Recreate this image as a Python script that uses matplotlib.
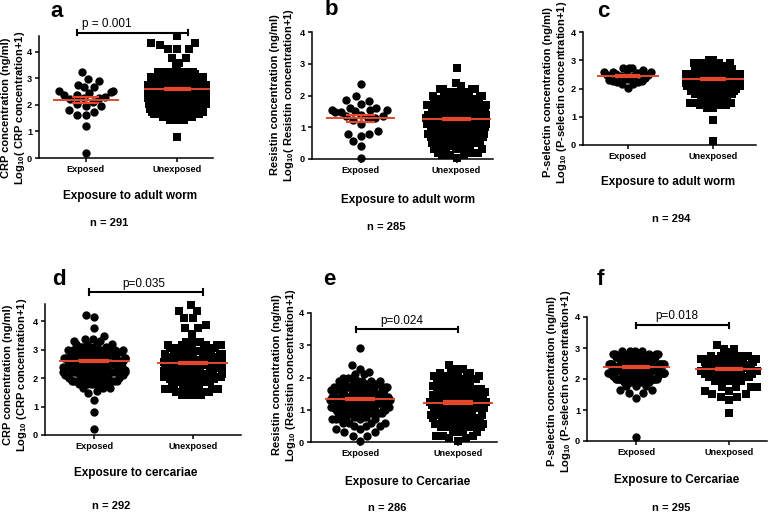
import numpy as np
import matplotlib
matplotlib.use('Agg')
import matplotlib.pyplot as plt

plt.rcParams['font.family'] = ['Liberation Sans', 'DejaVu Sans']
plt.rcParams['mathtext.fontset'] = 'custom'
plt.rcParams['mathtext.rm'] = 'Liberation Sans:bold'
plt.rcParams['mathtext.default'] = 'rm'

groups = ['Exposed', 'Unexposed']

# sparse groups: one value per point
a_exp = [0.19, 1.2, 1.62, 1.62, 1.75, 1.81, 1.96, 1.96, 2.05, 2.13, 2.22, 2.28, 2.28, 2.3,
         2.39, 2.39, 2.44, 2.47, 2.54, 2.54, 2.67, 2.67, 2.75, 2.9, 2.97, 3.23]
b_exp = [0.02, 0.42, 0.57, 0.72, 0.8, 0.8, 0.88, 1.09, 1.22, 1.28, 1.3, 1.35, 1.35, 1.4,
         1.47, 1.47, 1.51, 1.54, 1.54, 1.54, 1.62, 1.62, 1.74, 1.83, 1.86, 1.97, 2.36]
c_exp = [2.03, 2.15, 2.15, 2.22, 2.22, 2.27, 2.27, 2.3, 2.35, 2.38, 2.4, 2.42, 2.45, 2.45,
         2.48, 2.48, 2.5, 2.55, 2.55, 2.59, 2.59, 2.59, 2.65, 2.65, 2.71, 2.71, 2.71]

# dense groups: row value and number of points near that value
a_une_y = [0.8, 1.45, 1.55, 1.65, 1.75, 1.85, 1.95, 2.05, 2.15, 2.25, 2.35, 2.45, 2.55,
           2.65, 2.75, 2.85, 2.95, 3.05, 3.15, 3.25, 3.45, 3.58, 3.77, 4.1, 4.25, 4.33, 4.6]
a_une_n = [1, 7, 8, 9, 10, 12, 14, 15, 16, 16, 17, 17, 17, 17, 16, 14, 13, 12, 10, 9,
           2, 1, 2, 3, 1, 2, 1]
b_une_y = [0.02, 0.12, 0.2, 0.3, 0.42, 0.5, 0.6, 0.7, 0.8, 0.9, 1.0, 1.1, 1.2, 1.3, 1.4, 1.5,
           1.6, 1.7, 1.8, 1.9, 2.0, 2.1, 2.2, 2.3, 2.38, 2.88]
b_une_n = [1, 3, 4, 5, 6, 8, 10, 12, 14, 15, 16, 17, 18, 18, 17, 16, 15, 14, 12, 10, 8, 6,
           4, 1, 1, 1]
c_une_y = [0.13, 0.87, 1.32, 1.4, 1.5, 1.6, 1.7, 1.8, 1.9, 2.0, 2.1, 2.2, 2.3, 2.4, 2.5,
           2.6, 2.7, 2.8, 2.9, 3.0]
c_une_n = [1, 1, 2, 3, 3, 4, 8, 14, 20, 24, 26, 27, 27, 26, 24, 20, 14, 10, 7, 2]
d_exp_y = [0.21, 0.82, 1.23, 1.46, 1.55, 1.65, 1.78, 1.9, 2.0, 2.1, 2.2, 2.3, 2.4, 2.5, 2.6,
           2.7, 2.8, 2.9, 3.0, 3.1, 3.2, 3.3, 3.37, 3.49, 3.74, 4.13, 4.23]
d_exp_n = [1, 1, 1, 1, 1, 3, 6, 8, 8, 9, 9, 9, 9, 9, 9, 9, 9, 8, 7, 6, 4, 2, 2, 1, 1, 1, 1]
d_une_y = [1.42, 1.5, 1.6, 1.7, 1.85, 1.95, 2.05, 2.15, 2.25, 2.35, 2.45, 2.55, 2.65, 2.75,
           2.85, 2.95, 3.05, 3.15, 3.25, 3.53, 3.75, 3.88, 4.1, 4.37, 4.58]
d_une_n = [8, 5, 7, 7, 9, 10, 10, 10, 10, 10, 10, 10, 10, 9, 9, 8, 7, 6, 4, 1, 2, 1, 2, 2, 1]
e_exp_y = [0.03, 0.2, 0.3, 0.4, 0.5, 0.6, 0.7, 0.78, 0.9, 1.0, 1.1, 1.2, 1.3, 1.4, 1.5, 1.6,
           1.7, 1.8, 1.9, 2.0, 2.1, 2.18, 2.25, 2.38, 2.9]
e_exp_n = [1, 2, 2, 2, 3, 4, 5, 5, 9, 10, 11, 11, 11, 11, 11, 10, 9, 8, 5, 3, 2, 1, 1, 1, 1]
e_une_y = [0.02, 0.12, 0.2, 0.3, 0.45, 0.55, 0.65, 0.75, 0.85, 0.95, 1.05, 1.15, 1.25, 1.35,
           1.45, 1.55, 1.65, 1.75, 1.85, 1.95, 2.05, 2.15, 2.25, 2.38]
e_une_n = [1, 2, 3, 4, 6, 6, 6, 7, 8, 8, 9, 9, 9, 9, 9, 9, 9, 8, 7, 6, 5, 3, 2, 1]
f_exp_y = [0.14, 1.38, 1.55, 1.65, 1.78, 1.9, 2.0, 2.1, 2.2, 2.3, 2.4, 2.5, 2.6, 2.7, 2.8, 2.9]
f_exp_n = [1, 1, 2, 2, 3, 8, 12, 14, 16, 16, 16, 15, 14, 12, 8, 4]
f_une_y = [0.89, 1.32, 1.42, 1.52, 1.62, 1.75, 1.95, 2.05, 2.15, 2.25, 2.35, 2.45, 2.55, 2.65,
           2.75, 2.88, 2.96, 3.1]
f_une_n = [1, 1, 2, 2, 2, 4, 12, 14, 16, 17, 17, 16, 14, 12, 9, 3, 2, 1]

# mean and SEM per group (Exposed, Unexposed)
a_mean, a_sem = [2.2, 2.6], [0.11, 0.04]
b_mean, b_sem = [1.28, 1.27], [0.1, 0.03]
c_mean, c_sem = [2.43, 2.33], [0.04, 0.03]
d_mean, d_sem = [2.6, 2.52], [0.04, 0.04]
e_mean, e_sem = [1.33, 1.22], [0.04, 0.04]
f_mean, f_sem = [2.38, 2.33], [0.03, 0.03]

p_texts = ['p = 0.001', None, None, 'p=0.035', 'p=0.024', 'p=0.018']
n_texts = ['n = 291', 'n = 285', 'n = 294', 'n = 292', 'n = 286', 'n = 295']
xlabels = ['Exposure to adult worm'] * 3 + ['Exposure to cercariae', 'Exposure to Cercariae',
                                            'Exposure to Cercariae']
ylabels = ['CRP concentration (ng/ml)\nLog$_{10}$( CRP concentration+1)',
           'Resistin concentration (ng/ml)\nLog$_{10}$( Resistin concentration+1)',
           'P-selectin concentration (ng/ml)\nLog$_{10}$ (P-selectin concentration+1)',
           'CRP concentration (ng/ml)\nLog$_{10}$ (CRP concentration+1)',
           'Resistin concentration (ng/ml)\nLog$_{10}$ (Resistin concentration+1)',
           'P-selectin concentration (ng/ml)\nLog$_{10}$ (P-selectin concentration+1)']
letters = ['a', 'b', 'c', 'd', 'e', 'f']

exp_vals = [a_exp, b_exp, c_exp, np.repeat(d_exp_y, d_exp_n), np.repeat(e_exp_y, e_exp_n),
            np.repeat(f_exp_y, f_exp_n)]
une_vals = [np.repeat(a_une_y, a_une_n), np.repeat(b_une_y, b_une_n),
            np.repeat(c_une_y, c_une_n), np.repeat(d_une_y, d_une_n),
            np.repeat(e_une_y, e_une_n), np.repeat(f_une_y, f_une_n)]
stats = [(a_mean, a_sem), (b_mean, b_sem), (c_mean, c_sem), (d_mean, d_sem),
         (e_mean, e_sem), (f_mean, f_sem)]

# layout in pixels: axes box (left, right, top, bottom), xlim, ylim top
W, H = 776, 514
boxes = [(39, 213, 36, 158), (312, 493, 32, 159), (583, 756, 32, 145),
         (45, 241, 304, 435), (311, 497, 313, 442), (587, 767, 317, 441)]
xlims = [(-0.51, 1.39), (-0.51, 1.38), (-0.52, 1.5), (-0.5, 1.49), (-0.5, 1.4), (-0.53, 1.41)]
ytops = [4.6, 4.0, 4.0, 4.6, 4.0, 4.0]
halfw = [(0.28, 0.3), (0.29, 0.3), (0.27, 0.3), (0.3, 0.28), (0.29, 0.27), (0.29, 0.29)]
brackets = [(-0.1, 1.12, 4.72), None, None, (-0.05, 1.1, 5.02), (-0.04, 1.0, 3.5), (0.0, 1.0, 3.74)]
p_pos = [(0.23, 5.06), None, None, (0.5, 5.3), (0.43, 3.75), (0.44, 4.03)]
letter_pos = [(50, 17), (325, 15), (597, 17), (52, 285), (323, 285), (597, 285)]
ylab_pos = [(14, 108), (283, 95), (556, 92), (16, 375), (285, 375), (560, 381)]
xlab_pos = [(130, 196), (408, 200), (668, 182), (136, 473), (408, 482), (677, 480)]
n_pos = [(109, 223), (386, 227), (671, 219), (111, 506), (387, 508), (671, 508)]

red = '#e4472c'


def fx(x):
    return x / W


def fy(y):
    return 1 - y / H


def place(y, d, squeeze):
    # greedy swarm: each point goes as near the centre as the ones already placed allow
    px = np.zeros(len(y))
    for k in range(1, len(y)):
        near = np.abs(y[:k] - y[k]) < d
        xs, ys = px[:k][near], y[:k][near]
        if len(xs) == 0:
            continue
        w = np.sqrt(d * d - (ys - y[k]) ** 2) * np.minimum(squeeze[:k][near], squeeze[k])
        cands = np.concatenate([[0.0], xs - w, xs + w])
        cands = cands[np.argsort(np.abs(cands), kind='stable')]
        ok = np.all(np.abs(cands[:, None] - xs[None, :]) >= w[None, :] - 1e-6, axis=1)
        px[k] = cands[np.argmax(ok)]
    return px


def beeswarm(vals, d, sx, sy, hw):
    y = np.sort(np.asarray(vals, float)) * sy
    px = place(y, d, np.ones(len(y)))
    hwp = hw * sx
    squeeze = np.ones(len(y))
    for k in range(len(y)):
        band = np.abs(y - y[k]) < d * 0.6
        lm = np.abs(px[band]).max()
        if lm > hwp:
            squeeze[k] = hwp / lm
    px = place(y, d, squeeze)
    px = np.clip(px, -hwp * 1.05, hwp * 1.05)
    return px / sx, y / sy


fig = plt.figure(figsize=(W / 100, H / 100), dpi=100)

for i in range(6):
    l, r, t, b = boxes[i]
    ax = fig.add_axes([fx(l), fy(b), (r - l) / W, (b - t) / H])
    ax.set_xlim(*xlims[i])
    ax.set_ylim(0, ytops[i])
    sx = (r - l) / (xlims[i][1] - xlims[i][0])
    sy = (b - t) / ytops[i]

    for x0, vals, mk, hw in zip([0, 1], [exp_vals[i], une_vals[i]], ['o', 's'], halfw[i]):
        xo, yy = beeswarm(vals, 9.0, sx, sy, hw)
        ax.scatter(x0 + xo, yy, s=36, marker=mk, c='black', linewidths=0, zorder=2,
                   clip_on=False)

    means, sems = stats[i]
    for x0, m, se in zip([0, 1], means, sems):
        ax.plot([x0 - 0.35, x0 + 0.35], [m, m], color=red, lw=1.4, zorder=3)
        ax.hlines([m - se, m + se], x0 - 0.15, x0 + 0.15, color=red, lw=1.6, zorder=3)
        ax.vlines(x0, m - se, m + se, color=red, lw=1.6, zorder=3)

    if brackets[i] is not None:
        x1, x2, yb = brackets[i]
        tick = 0.08 * ytops[i] / 4
        ax.plot([x1, x2], [yb, yb], color='black', lw=1.5, clip_on=False)
        ax.plot([x1, x1], [yb - tick, yb + tick], color='black', lw=1.5, clip_on=False)
        ax.plot([x2, x2], [yb - tick, yb + tick], color='black', lw=1.5, clip_on=False)
        ax.text(p_pos[i][0], p_pos[i][1], p_texts[i], ha='center', va='center',
                fontsize=8.5, clip_on=False)

    for s in ['top', 'right']:
        ax.spines[s].set_visible(False)
    for s in ['left', 'bottom']:
        ax.spines[s].set_linewidth(1.1)
    ax.set_xticks([0, 1])
    ax.set_xticklabels(groups, fontsize=6.6, fontweight='bold')
    ax.set_yticks([0, 1, 2, 3, 4])
    ax.set_yticklabels(['0', '1', '2', '3', '4'], fontsize=6.6, fontweight='bold')
    ax.tick_params(length=3, width=1.1, pad=2)

    fig.text(fx(letter_pos[i][0]), fy(letter_pos[i][1]), letters[i], fontsize=16,
             fontweight='bold', ha='left', va='baseline')
    fig.text(fx(ylab_pos[i][0]), fy(ylab_pos[i][1]), ylabels[i], rotation=90,
             fontsize=8, fontweight='bold', ha='center', va='center', multialignment='center')
    fig.text(fx(xlab_pos[i][0]), fy(xlab_pos[i][1]), xlabels[i], fontsize=8.5,
             fontweight='bold', ha='center', va='center')
    fig.text(fx(n_pos[i][0]), fy(n_pos[i][1]), n_texts[i], fontsize=8,
             fontweight='bold', ha='center', va='center')

fig.savefig('out.png', dpi=100)
